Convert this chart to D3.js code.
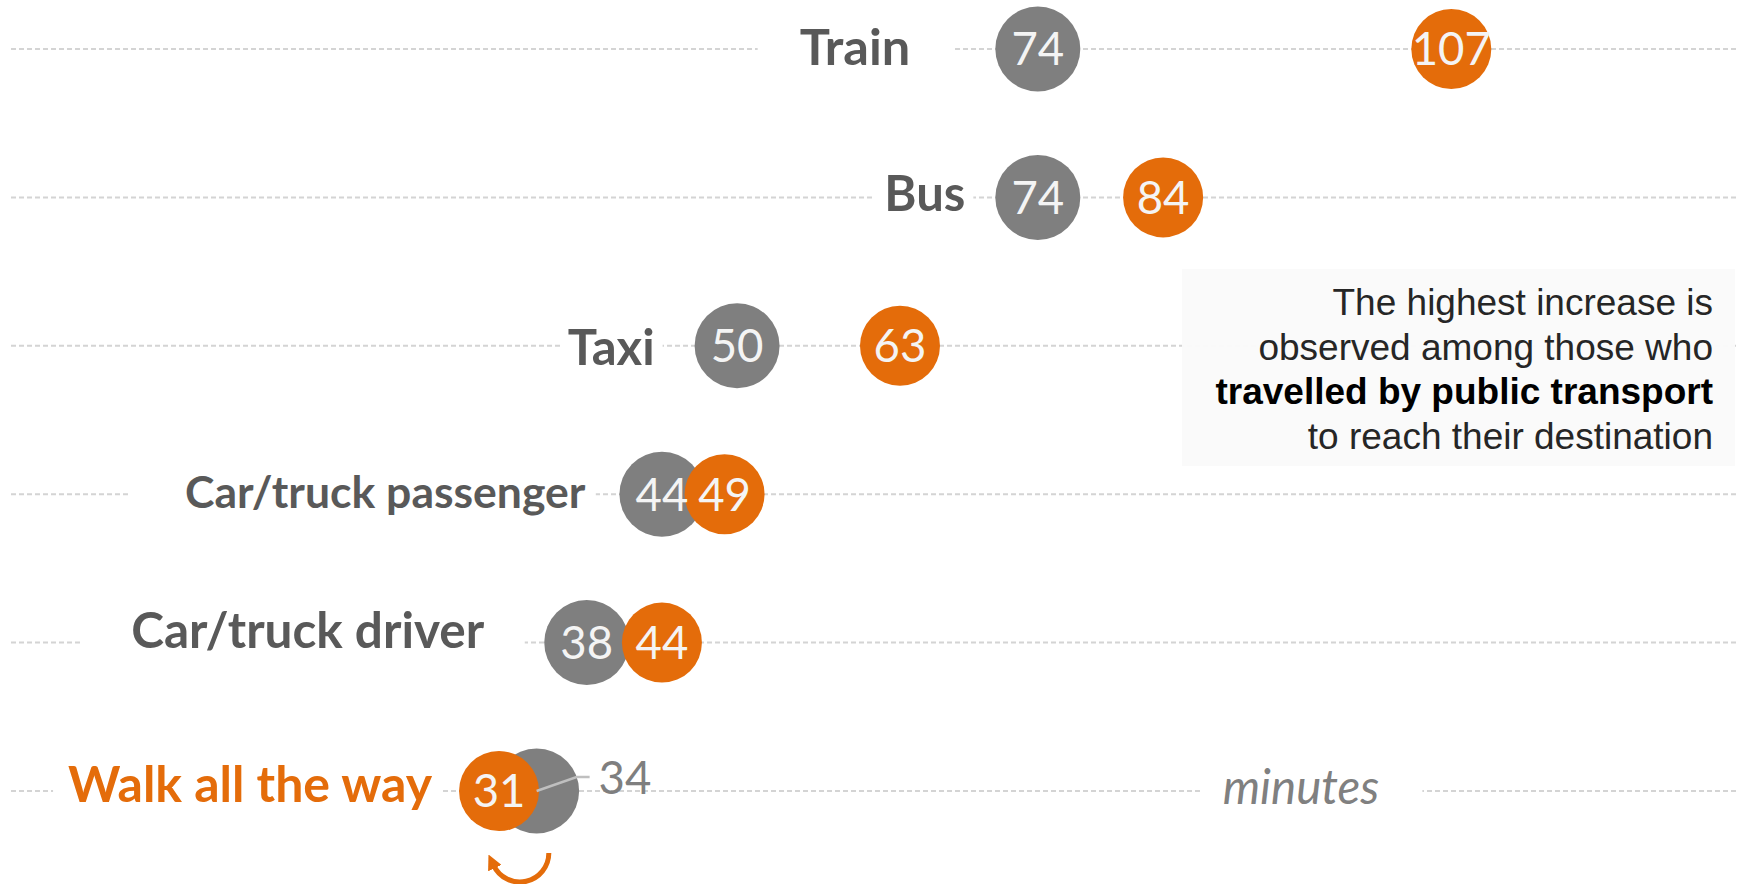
<!DOCTYPE html>
<html>
<head>
<meta charset="utf-8">
<script src="https://cdn.jsdelivr.net/npm/d3@7/dist/d3.min.js"></script>
<style>
  html, body { margin: 0; padding: 0; background: #ffffff; }
  svg { display: block; }
</style>
</head>
<body>
<svg id="chart" width="1748" height="884"></svg>
<script>
// Travel mode categories, top to bottom
const categories = ["Train", "Bus", "Taxi", "Car/truck passenger", "Car/truck driver", "Walk all the way"];
// Average travel time in minutes: earlier survey (grey) and later survey (orange)
const earlierMinutes = [74, 74, 50, 44, 38, 34];
const laterMinutes = [107, 84, 63, 49, 44, 31];
// Category highlighted in orange
const highlighted = "Walk all the way";
// Axis unit label
const unitLabel = "minutes";
// Annotation text, one entry per line
const noteLines = [
  { text: "The highest increase is", bold: false },
  { text: "observed among those who", bold: false },
  { text: "travelled by public transport", bold: true },
  { text: "to reach their destination", bold: false }
];

// Label layout: gap to the first bubble, vertical nudge, font size and white knock-out padding [left, right]
const labelGap = [85, 30, 40, 34, 60, 27];
const labelNudge = [-2, -4, 2, -2, -12, -7];
const labelSize = [50.5, 49, 49, 44.5, 49.5, 50];
const labelPad = [[42, 42], [11, 8], [7, 8], [54, 10], [50, 40], [15, 8]];

const GREY = "#7f7f7f";
const ORANGE = "#e46c0a";
const LABEL_GREY = "#595959";
const rGrey = 42.5;
const rOrange = 40;

const svg = d3.select("#chart");

const x = d3.scaleLinear().domain([0, 100]).range([110.6, 1363.6]);
const y = d3.scalePoint().domain(categories).range([49, 791]);

const rows = categories.map((c, i) => ({
  cat: c,
  i: i,
  earlier: earlierMinutes[i],
  later: laterMinutes[i],
  y: y(c)
}));

// Dashed guide lines
const lines = svg.append("g");
lines.selectAll("line")
  .data(rows)
  .join("line")
  .attr("x1", 11)
  .attr("x2", 1737)
  .attr("y1", d => d.y)
  .attr("y2", d => d.y)
  .attr("stroke", "#d4d4d4")
  .attr("stroke-width", 2)
  .attr("stroke-dasharray", "5,3");

// Annotation panel
const note = svg.append("g");
note.append("rect")
  .attr("x", 1182).attr("y", 269)
  .attr("width", 553).attr("height", 197)
  .attr("fill", "#fafafa")
  .attr("fill-opacity", 0.96);
note.selectAll("text")
  .data(noteLines)
  .join("text")
  .attr("x", 1713)
  .attr("y", (d, i) => 315 + i * 44.5)
  .attr("text-anchor", "end")
  .attr("font-family", "'Liberation Sans', Arial, sans-serif")
  .attr("font-size", 37)
  .attr("font-weight", d => d.bold ? 700 : 400)
  .attr("fill", d => d.bold ? "#000000" : "#262626")
  .text(d => d.text);

// Category labels with white knock-out behind them
const labelG = svg.append("g");
rows.forEach(d => {
  const firstIsEarlier = d.earlier <= d.later;
  const left = firstIsEarlier ? x(d.earlier) - rGrey : x(d.later) - rOrange;
  const g = labelG.append("g");
  const bg = g.append("rect");
  const t = g.append("text")
    .attr("x", left - labelGap[d.i])
    .attr("y", d.y + labelNudge[d.i])
    .attr("dy", "0.35em")
    .attr("text-anchor", "end")
    .attr("font-family", "Lato, 'Open Sans', sans-serif")
    .attr("font-weight", 700)
    .attr("font-size", labelSize[d.i])
    .attr("fill", d.cat === highlighted ? ORANGE : LABEL_GREY)
    .text(d.cat);
  const bb = t.node().getBBox();
  bg.attr("x", bb.x - labelPad[d.i][0])
    .attr("width", bb.width + labelPad[d.i][0] + labelPad[d.i][1])
    .attr("y", d.y - 6)
    .attr("height", 12)
    .attr("fill", "#ffffff");
});

// Unit label on the bottom line
const unitG = svg.append("g");
const unitBg = unitG.append("rect");
const unitText = unitG.append("text")
  .attr("x", 1301)
  .attr("y", 804)
  .attr("text-anchor", "middle")
  .attr("font-family", "Lato, 'Open Sans', sans-serif")
  .attr("font-style", "italic")
  .attr("font-size", 47.5)
  .attr("fill", "#808080")
  .text(unitLabel);
const ub = unitText.node().getBBox();
unitBg.attr("x", ub.x - 22).attr("width", ub.width + 65)
  .attr("y", y(highlighted) - 6).attr("height", 12)
  .attr("fill", "#ffffff");

// Grey bubbles (earlier survey)
const bubbles = svg.append("g");
bubbles.selectAll("circle.earlier")
  .data(rows)
  .join("circle")
  .attr("class", "earlier")
  .attr("cx", d => x(d.earlier))
  .attr("cy", d => d.y)
  .attr("r", rGrey)
  .attr("fill", GREY);

// Leader and outside label for the grey bubble hidden behind the orange one
const hidden = rows.filter(d => d.later < d.earlier);
const leader = svg.append("g");
hidden.forEach(d => {
  const cx = x(d.earlier);
  leader.append("polyline")
    .attr("points", [[cx, d.y], [cx + 40, d.y - 14], [cx + 53, d.y - 14]].map(p => p.join(",")).join(" "))
    .attr("fill", "none")
    .attr("stroke", "#bfbfbf")
    .attr("stroke-width", 2.5);
  leader.append("text")
    .attr("x", cx + 62)
    .attr("y", d.y - 13)
    .attr("dy", "0.36em")
    .attr("font-family", "Lato, 'Open Sans', sans-serif")
    .attr("font-size", 45.5)
    .attr("fill", GREY)
    .text(d.earlier);
});

// Orange bubbles (later survey)
bubbles.selectAll("circle.later")
  .data(rows)
  .join("circle")
  .attr("class", "later")
  .attr("cx", d => x(d.later))
  .attr("cy", d => d.y)
  .attr("r", rOrange)
  .attr("fill", ORANGE);

// Values inside bubbles
const valueText = svg.append("g")
  .attr("font-family", "Lato, 'Open Sans', sans-serif")
  .attr("font-size", 45.5)
  .attr("fill", "#f4f4f4")
  .attr("text-anchor", "middle");
valueText.selectAll("text.earlier")
  .data(rows.filter(d => d.later >= d.earlier))
  .join("text")
  .attr("class", "earlier")
  .attr("x", d => x(d.earlier))
  .attr("y", d => d.y)
  .attr("dy", "0.36em")
  .text(d => d.earlier);
valueText.selectAll("text.later")
  .data(rows)
  .join("text")
  .attr("class", "later")
  .attr("x", d => x(d.later))
  .attr("y", d => d.y)
  .attr("dy", "0.36em")
  .text(d => d.later);

// Curved arrow marking the reversal under the walking row
const defs = svg.append("defs");
defs.append("marker")
  .attr("id", "arrowHead")
  .attr("viewBox", "0 0 10 10")
  .attr("refX", 2).attr("refY", 5)
  .attr("markerUnits", "userSpaceOnUse")
  .attr("markerWidth", 15).attr("markerHeight", 15)
  .attr("orient", "auto")
  .append("path")
  .attr("d", "M0,0 L10,5 L0,10 z")
  .attr("fill", ORANGE);

hidden.forEach(d => {
  const cx = (x(d.earlier) + x(d.later)) / 2 + 2;
  const cy = d.y + 62;
  const p = d3.path();
  p.arc(cx, cy, 29, 0, 2.7);
  svg.append("path")
    .attr("d", p.toString())
    .attr("fill", "none")
    .attr("stroke", ORANGE)
    .attr("stroke-width", 5)
    .attr("marker-end", "url(#arrowHead)");
});
</script>
</body>
</html>
